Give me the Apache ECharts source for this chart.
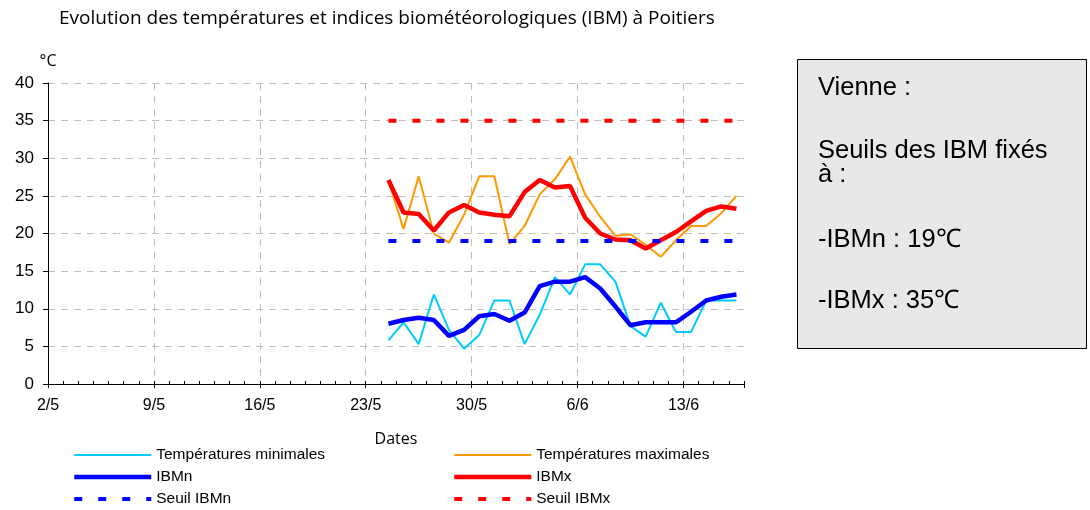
<!DOCTYPE html>
<html lang="fr">
<head>
  <meta charset="UTF-8">
  <title>Evolution des températures et IBM à Poitiers</title>
  <script src="https://cdn.jsdelivr.net/npm/echarts@6/dist/echarts.min.js"></script>
  <style>
    html, body { margin: 0; padding: 0; background: #fff; }
    #chart { width: 1090px; height: 510px; }
  </style>
</head>
<body>
  <div id="chart"></div>
  <script>
    // jours observés (du 24/5 au 16/6)
    var dates = ['24/5', '25/5', '26/5', '27/5', '28/5', '29/5', '30/5', '31/5',
      '1/6', '2/6', '3/6', '4/6', '5/6', '6/6', '7/6', '8/6', '9/6', '10/6',
      '11/6', '12/6', '13/6', '14/6', '15/6', '16/6'];
    var tmin = [5.8, 8.2, 5.3, 11.9, 7.2, 4.7, 6.5, 11.1, 11.1, 5.3, 9.2, 14.2,
      11.9, 15.9, 15.9, 13.6, 7.7, 6.3, 10.8, 6.9, 6.9, 11.1, 11.1, 11.1];
    var tmax = [27.0, 20.6, 27.6, 20.0, 18.8, 22.5, 27.6, 27.6, 18.6, 21.0, 25.2, 27.2,
      30.2, 25.2, 22.2, 19.7, 19.9, 18.5, 16.9, 19.1, 21.0, 21.0, 22.7, 25.0];
    var ibmn = [8.0, 8.5, 8.8, 8.5, 6.4, 7.2, 9.0, 9.3, 8.4, 9.5, 13.0, 13.6,
      13.6, 14.2, 12.7, 10.3, 7.8, 8.2, 8.2, 8.2, 9.6, 11.1, 11.6, 11.9];
    var ibmx = [27.1, 22.8, 22.6, 20.4, 22.8, 23.8, 22.8, 22.5, 22.3, 25.5, 27.1, 26.1,
      26.3, 22.1, 20.0, 19.2, 19.1, 18.0, 19.1, 20.2, 21.6, 23.0, 23.6, 23.3];
    var seuilN = dates.map(function () { return 19; });
    var seuilX = dates.map(function () { return 35; });
    var tickLabels = ['2/5', '9/5', '16/5', '23/5', '30/5', '6/6', '13/6'];

    // position d'une date : jours depuis le 2/5, au milieu du jour
    function dayPos(d) {
      var p = d.split('/').map(Number);
      var off = p[1] === 5 ? p[0] - 2 : 29 + p[0];
      return off + 0.5;
    }
    function pairs(values) {
      return values.map(function (v, i) { return [dayPos(dates[i]), v]; });
    }

    var font = 'Liberation Sans, Arial, sans-serif';
    var gridH = 301;
    var gridLine = { show: true, lineStyle: { color: '#bfbfbf', type: [7, 6], width: 1 } };
    var legendText = { fontFamily: font, fontSize: 15.5, color: '#000' };

    var chart = echarts.init(document.getElementById('chart'));
    chart.setOption({
      animation: false,
      title: {
        text: 'Evolution des températures et indices biométéorologiques (IBM) à Poitiers',
        left: 59, top: 9, padding: 0,
        textStyle: { fontFamily: 'Open Sans', fontSize: 19, fontWeight: 'normal', color: '#000' }
      },
      grid: { left: 48, top: 83, width: 696, height: gridH },
      legend: [{
        orient: 'vertical', left: 72, top: 447, height: 90, padding: 0,
        itemWidth: 77, itemHeight: 14, itemGap: 6,
        itemStyle: { opacity: 0 },
        textStyle: legendText,
        data: [
          { name: 'Températures minimales', lineStyle: { width: 2 } },
          { name: 'IBMn', lineStyle: { width: 4.5 } },
          { name: 'Seuil IBMn', lineStyle: { width: 4, type: [8, 16] } }
        ]
      }, {
        orient: 'vertical', left: 452, top: 447, height: 90, padding: 0,
        itemWidth: 77, itemHeight: 14, itemGap: 6,
        itemStyle: { opacity: 0 },
        textStyle: legendText,
        data: [
          { name: 'Températures maximales', lineStyle: { width: 2 } },
          { name: 'IBMx', lineStyle: { width: 4.5 } },
          { name: 'Seuil IBMx', lineStyle: { width: 4, type: [8, 16] } }
        ]
      }],
      xAxis: [{
        type: 'value', min: 0, max: 46, interval: 7, position: 'bottom',
        name: 'Dates', nameLocation: 'middle', nameGap: 47,
        nameTextStyle: { fontFamily: 'Open Sans', fontSize: 16, color: '#000' },
        axisLine: { show: true, onZero: false, lineStyle: { color: '#000', width: 1 } },
        axisTick: { show: true, length: 4, lineStyle: { color: '#000' } },
        axisLabel: {
          margin: 14, fontFamily: font, fontSize: 16, color: '#000',
          formatter: function (v) { return v % 7 === 0 ? tickLabels[v / 7] : ''; }
        },
        splitLine: Object.assign({ showMinLine: false, showMaxLine: false }, gridLine)
      }, {
        // petites graduations journalières
        type: 'value', min: 0, max: 46, interval: 1, position: 'top', offset: -gridH,
        axisLine: { show: false },
        axisTick: { show: true, inside: false, length: 3, lineStyle: { color: '#000' } },
        axisLabel: { show: false },
        splitLine: { show: false }
      }],
      yAxis: {
        type: 'value', min: 0, max: 40, interval: 5,
        name: '°C', nameLocation: 'end', nameGap: 14,
        nameTextStyle: { fontFamily: 'Open Sans', fontSize: 16, color: '#000' },
        axisLine: { show: true, lineStyle: { color: '#000', width: 1 } },
        axisTick: { show: true, length: 5, lineStyle: { color: '#000' } },
        axisLabel: { margin: 14, fontFamily: font, fontSize: 17, color: '#000' },
        splitLine: gridLine
      },
      series: [
        { name: 'Températures minimales', type: 'line', data: pairs(tmin), symbol: 'none',
          lineStyle: { color: '#00ccff', width: 2 }, itemStyle: { color: '#00ccff' } },
        { name: 'Températures maximales', type: 'line', data: pairs(tmax), symbol: 'none',
          lineStyle: { color: '#ff9900', width: 2 }, itemStyle: { color: '#ff9900' } },
        { name: 'IBMn', type: 'line', data: pairs(ibmn), symbol: 'none',
          lineStyle: { color: '#0000ff', width: 4.5 }, itemStyle: { color: '#0000ff' } },
        { name: 'IBMx', type: 'line', data: pairs(ibmx), symbol: 'none',
          lineStyle: { color: '#ff0000', width: 4.5 }, itemStyle: { color: '#ff0000' } },
        { name: 'Seuil IBMn', type: 'line', data: pairs(seuilN), symbol: 'none',
          lineStyle: { color: '#0000ff', width: 4, type: [8, 16], cap: 'butt' }, itemStyle: { color: '#0000ff' } },
        { name: 'Seuil IBMx', type: 'line', data: pairs(seuilX), symbol: 'none',
          lineStyle: { color: '#ff0000', width: 4, type: [8, 16], cap: 'butt' }, itemStyle: { color: '#ff0000' } }
      ],
      graphic: [
        { type: 'rect', shape: { x: 797.5, y: 59.5, width: 289, height: 289 },
          style: { fill: '#e8e8e8', stroke: '#000', lineWidth: 1 } },
        { type: 'text', x: 818, y: 88, style: { text: 'Vienne :', font: '25.5px ' + font, fill: '#000', verticalAlign: 'middle' } },
        { type: 'text', x: 818, y: 151, style: { text: 'Seuils des IBM fixés', font: '25.5px ' + font, fill: '#000', verticalAlign: 'middle' } },
        { type: 'text', x: 818, y: 175, style: { text: 'à :', font: '25.5px ' + font, fill: '#000', verticalAlign: 'middle' } },
        { type: 'text', x: 818, y: 240, style: { text: '-IBMn : 19℃', font: '25.5px ' + font, fill: '#000', verticalAlign: 'middle' } },
        { type: 'text', x: 818, y: 301, style: { text: '-IBMx : 35℃', font: '25.5px ' + font, fill: '#000', verticalAlign: 'middle' } }
      ]
    });
  </script>
</body>
</html>
